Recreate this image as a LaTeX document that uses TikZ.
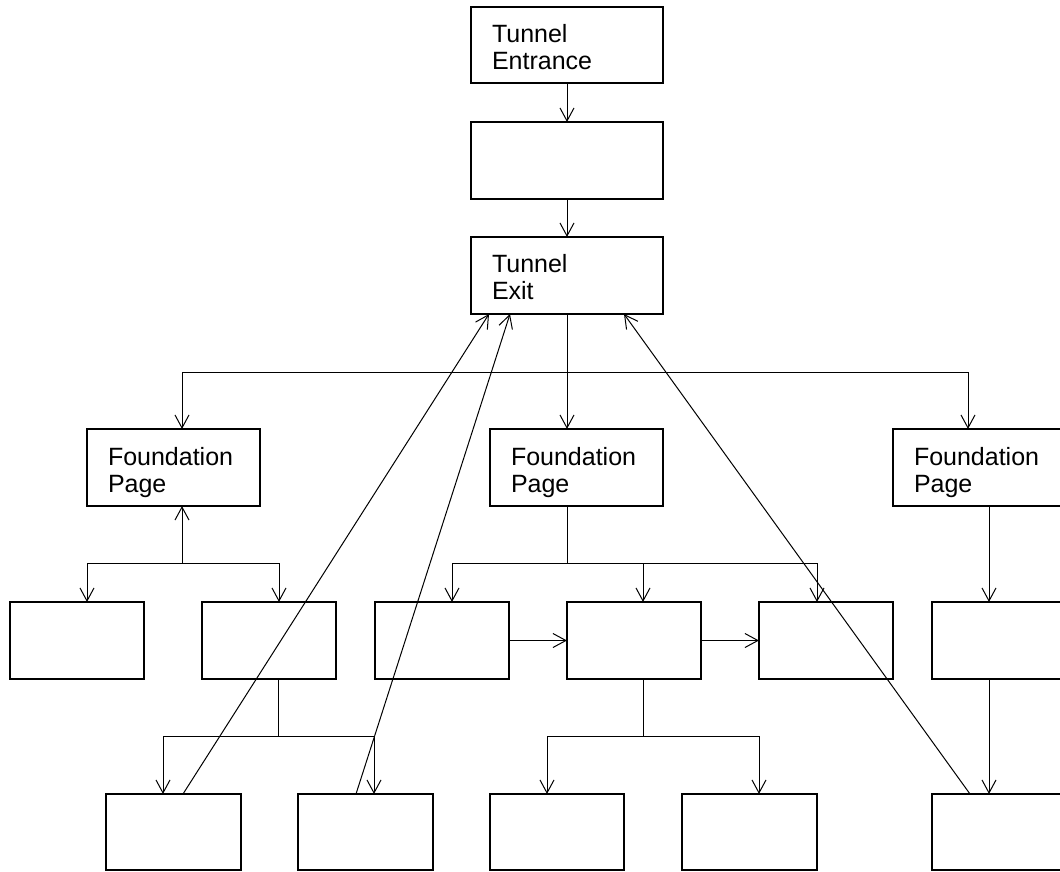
\documentclass[tikz,border=0pt]{standalone}
\usepackage{fontspec}
\setmainfont{Liberation Sans}
\usetikzlibrary{arrows.meta,calc}
% place a rectangle given its left, top, right and bottom edges
\newcommand\pbox[6]{\node[#1, minimum width={#4-#2}, minimum height={#5-#3}] (#6) at ({(#2+#4)/2},{(#3+#5)/2}) {};}
\begin{document}
\begin{tikzpicture}[x=1pt,y=-1pt,
  box/.style={draw,line width=1.2pt,inner sep=0pt,outer sep=0pt,rectangle},
  mainbox/.style={box,line width=1.6pt},
  lbl/.style={align=left,inner sep=0pt,outer sep=0pt,anchor=north west,font=\fontsize{25}{27}\selectfont},
  wire/.style={line width=1pt},
  arr/.style={wire,-{Straight Barb[length=13pt,width=14pt,line width=1pt]}}]
\useasboundingbox (0,0) rectangle (1060,871);
\clip (0,0) rectangle (1060,871);

% tunnel column
\pbox{mainbox}{471}{7}{663}{83}{ent}
\pbox{mainbox}{471}{122}{663}{199}{mid}
\pbox{mainbox}{471}{237}{663}{314}{ext}
\node[lbl] (tent) at ($(ent.north west)+(21,17)$) {Tunnel\\Entrance};
\node[lbl] (text) at ($(ext.north west)+(21,17)$) {Tunnel\\Exit};

% foundation pages
\pbox{mainbox}{87}{429}{260}{506}{fpL}
\pbox{mainbox}{490}{429}{663}{506}{fpM}
\pbox{mainbox}{893}{429}{1066}{506}{fpR}
\node[lbl] (tfpL) at ($(fpL.north west)+(21,18)$) {Foundation\\Page};
\node[lbl] (tfpM) at ($(fpM.north west)+(21,18)$) {Foundation\\Page};
\node[lbl] (tfpR) at ($(fpR.north west)+(21,18)$) {Foundation\\Page};

% second row
\pbox{box}{10}{602}{144}{679}{ra}
\pbox{box}{202}{602}{336}{679}{rb}
\pbox{box}{375}{602}{509}{679}{rc}
\pbox{box}{567}{602}{701}{679}{rd}
\pbox{box}{759}{602}{893}{679}{re}
\pbox{box}{932}{602}{1066}{679}{rf}

% third row
\pbox{box}{106}{794}{241}{870}{sa}
\pbox{box}{298}{794}{433}{870}{sb}
\pbox{box}{490}{794}{624}{870}{sc}
\pbox{box}{682}{794}{817}{870}{sd}
\pbox{box}{932}{794}{1066}{870}{se}

% junction points
\coordinate (bus) at (567,372);
\coordinate (jL) at (182,563);
\coordinate (jM) at (567,563);
\coordinate (jB) at (278,736);
\coordinate (jD) at (643,736);

% tunnel chain
\draw[arr] (ent.south) -- (mid.north);
\draw[arr] (mid.south) -- (ext.north);

% exit to foundation pages
\draw[wire] (ext.south) -- (bus);
\draw[arr] (bus) -| ([xshift=8.5]fpL.north);
\draw[arr] (bus) -- ([xshift=-9.5]fpM.north);
\draw[arr] (bus) -| ([xshift=-11.5]fpR.north);

% left tree
\draw[arr] (jL) -- ([xshift=8.5]fpL.south);
\draw[arr] (jL) -| ([xshift=10]ra.north);
\draw[arr] (jL) -| ([xshift=10]rb.north);
\draw[wire] ([xshift=9]rb.south) -- (jB);
\draw[arr] (jB) -| ([xshift=-10.5]sa.north);
\draw[arr] (jB) -| ([xshift=8.5]sb.north);

% middle tree
\draw[wire] ([xshift=-9.5]fpM.south) -- (jM);
\draw[arr] (jM) -| ([xshift=10]rc.north);
\draw[arr] (jM) -| ([xshift=9]rd.north);
\draw[arr] (jM) -| ([xshift=-9]re.north);
\draw[arr] (rc.east) -- (rd.west);
\draw[arr] (rd.east) -- (re.west);
\draw[wire] ([xshift=9]rd.south) -- (jD);
\draw[arr] (jD) -| ([xshift=-10]sc.north);
\draw[arr] (jD) -| ([xshift=9.5]sd.north);

% right column
\draw[arr] ([xshift=9.5]fpR.south) -- ([xshift=-10]rf.north);
\draw[arr] ([xshift=-10]rf.south) -- ([xshift=-10]se.north);

% returns to the tunnel exit
\draw[arr] ([xshift=9.5]sa.north) -- ([xshift=-78]ext.south);
\draw[arr] ([xshift=-9.5]sb.north) -- ([xshift=-57]ext.south);
\draw[arr] ([xshift=-29]se.north) -- ([xshift=57]ext.south);
\end{tikzpicture}
\end{document}
